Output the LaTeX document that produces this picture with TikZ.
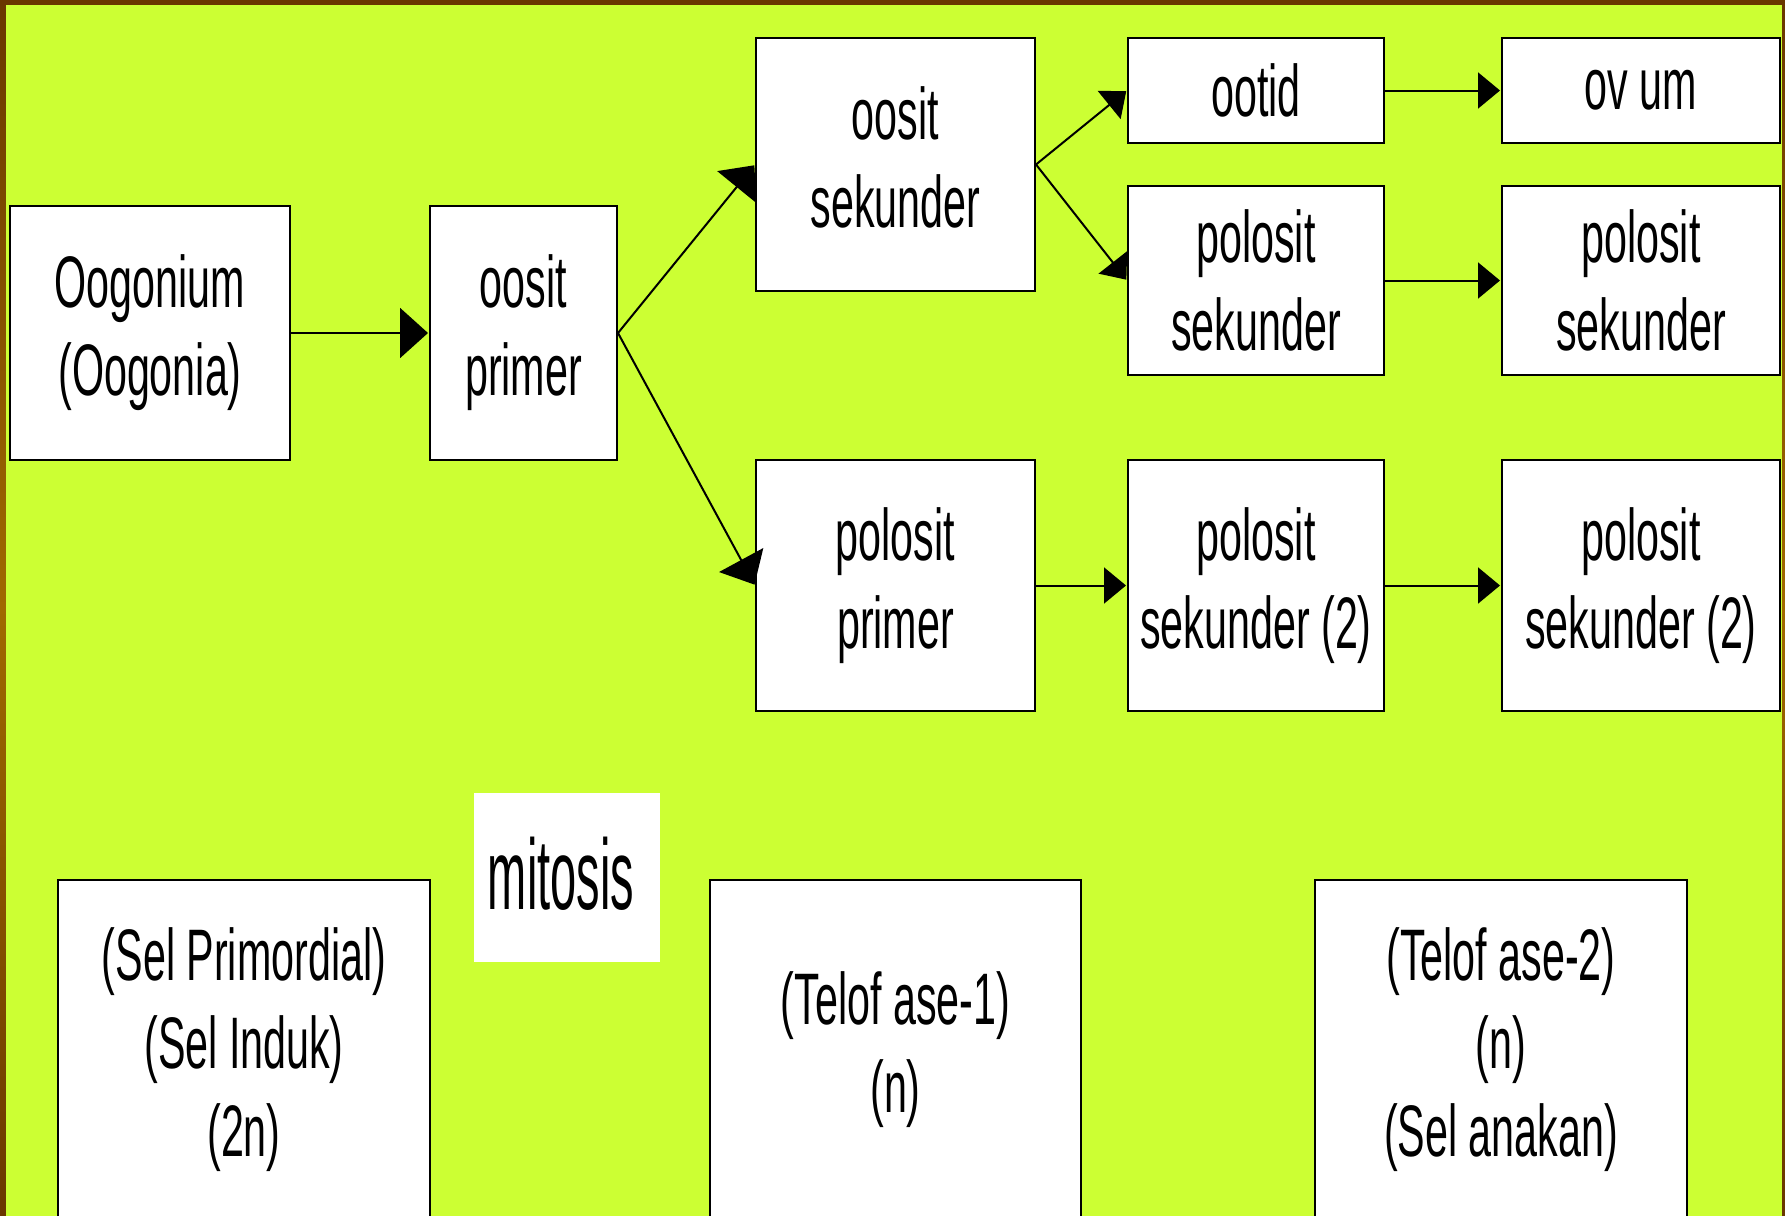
\documentclass[tikz,border=0pt]{standalone}
\usepackage{fontspec}
\setmainfont{Liberation Sans}
\newfontfamily\nar[FakeStretch=0.565]{Liberation Sans}
\newfontfamily\narr[FakeStretch=0.47]{Liberation Sans}
\usetikzlibrary{arrows.meta}
\definecolor{bg}{RGB}{204,255,51}
\definecolor{brA}{RGB}{105,55,0}
\definecolor{brB}{RGB}{160,105,0}
\tikzset{
  box/.style={draw=black, line width=2pt, fill=white, inner sep=0pt, align=center,
    font=\nar\fontsize{73}{88}\selectfont},
  txt/.style={inner sep=0pt, align=center, font=\nar\fontsize{73}{88}\selectfont},
  bigarrow/.style={-{Triangle[length=28pt,width=50pt]}, line width=2pt, shorten >=1pt},
  smallarrow/.style={-{Triangle[length=22pt,width=36pt]}, line width=2pt, shorten >=1pt},
}
\begin{document}
\begin{tikzpicture}[x=1pt,y=-1pt]
\useasboundingbox (0,0) rectangle (1785,1215);
\clip (0,0) rectangle (1785,1215);
% background and frame
\shade[top color=brA, bottom color=brA, middle color=brB] (0,0) rectangle (1785,1215);
\fill[bg] (6,5) rectangle (1782,1216);
% top flow
\node[box, minimum width=280pt, minimum height=254pt] (A) at (150,333) {Oogonium\\(Oogonia)};
\node[box, minimum width=187pt, minimum height=254pt] (B) at (523.5,333) {oosit\\primer};
\node[box, minimum width=279pt, minimum height=253pt] (C) at (895.5,164.5) {};
\node[txt] (Ct) at (895.5,157) {oosit\\sekunder};
\node[box, minimum width=256pt, minimum height=105pt] (D) at (1256,90.5) {ootid};
\node[box, minimum width=278pt, minimum height=105pt] (E) at (1641,90.5) {ov um};
\node[box, minimum width=256pt, minimum height=189pt] (F) at (1256,280.5) {polosit\\sekunder};
\node[box, minimum width=278pt, minimum height=189pt] (G) at (1641,280.5) {polosit\\sekunder};
\node[box, minimum width=279pt, minimum height=251pt] (H) at (895.5,585.5) {polosit\\primer};
\node[box, minimum width=256pt, minimum height=251pt] (I) at (1256,585.5) {polosit\\sekunder (2)};
\node[box, minimum width=278pt, minimum height=251pt] (J) at (1641,585.5) {polosit\\sekunder (2)};
% bottom row
\node[fill=white, minimum width=186pt, minimum height=169pt, inner sep=0pt] (K) at (567,877.5) {};
\node[inner sep=0pt, font=\narr\fontsize{100}{110}\selectfont] (Kt) at (561,873.5) {mitosis};
\node[box, minimum width=372pt, minimum height=340pt] (L) at (244,1050) {(Sel Primordial)\\(Sel Induk)\\(2n)};
\node[box, minimum width=371pt, minimum height=340pt] (M) at (895.5,1050) {(Telof ase-1)\\(n)};
\node[box, minimum width=372pt, minimum height=340pt] (N) at (1501,1050) {(Telof ase-2)\\(n)\\(Sel anakan)};
% connectors
\draw[bigarrow] (A.east) -- (B.west);
\draw[bigarrow] (B.east) -- (C.west);
\draw[bigarrow] (B.east) -- (H.west);
\draw[smallarrow] (C.east) -- (D.west);
\draw[smallarrow] (C.east) -- (F.west);
\draw[smallarrow] (D.east) -- (E.west);
\draw[smallarrow] (F.east) -- (G.west);
\draw[smallarrow] (H.east) -- (I.west);
\draw[smallarrow] (I.east) -- (J.west);
\end{tikzpicture}
\end{document}
